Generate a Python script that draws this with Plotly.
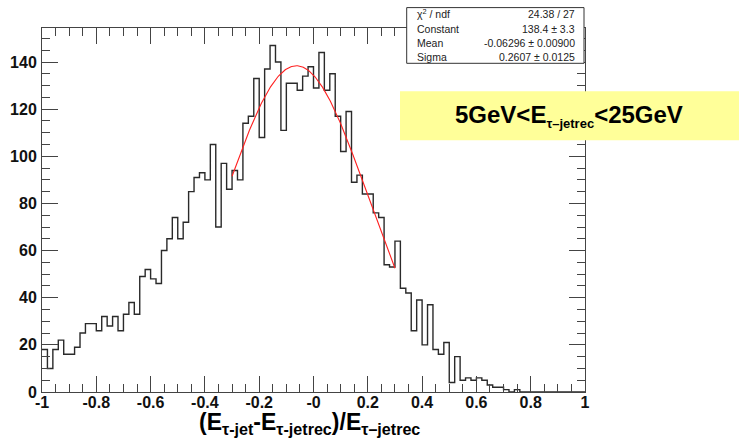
import plotly.graph_objects as go
import numpy as np

# Histogram definition: 100 bins from -1 to 1
bin_low = -1.0
bin_width = 0.02
counts = [
    18, 10, 18, 22, 16, 16, 19, 25, 29, 29,
    26, 32, 28, 32, 26, 33, 38, 33, 49, 52,
    48, 46, 60, 65, 74, 65, 72, 85, 91, 93,
    90, 105, 70, 97, 86, 94, 90, 114, 117, 133,
    108, 137, 147, 140, 111, 131, 131, 128, 134, 138,
    129, 144, 128, 135, 117, 102, 119, 89, 92, 84,
    84, 76, 74, 54, 53, 64, 44, 42, 26, 39,
    20, 37, 18, 16, 21, 4, 15, 5, 6, 5,
    6, 5, 3, 2, 2, 1, 0, 1, 0, 0,
    0, 0, 0, 0, 0, 0, 0, 0, 0, 0,
]

# Gaussian fit result
fit_constant = 138.4
fit_mean = -0.06296
fit_sigma = 0.2607
fit_range = (-0.3, 0.3)

stats_rows = [
    ("χ<sup>2</sup> / ndf", "24.38 / 27"),
    ("Constant", "138.4 ± 3.3"),
    ("Mean", "-0.06296 ± 0.00900"),
    ("Sigma", "0.2607 ± 0.0125"),
]

x_tickvals = [-1, -0.8, -0.6, -0.4, -0.2, 0, 0.2, 0.4, 0.6, 0.8, 1]
x_ticktext = ["-1", "-0.8", "-0.6", "-0.4", "-0.2", "-0", "0.2", "0.4", "0.6", "0.8", "1"]
y_tickvals = [0, 20, 40, 60, 80, 100, 120, 140]

FONT = "Liberation Sans, Arial, Helvetica, sans-serif"

# Plot frame in pixels
W, H = 739, 440
L, R, T, B = 42, 585, 27.7, 391.7


def px(x):
    return (x - L) / (R - L)


def py(y):
    return (B - y) / (B - T)


edges = bin_low + bin_width * np.arange(len(counts) + 1)
hist_x = list(edges)
hist_y = list(counts) + [counts[-1]]

xf = np.linspace(fit_range[0], fit_range[1], 200)
yf = fit_constant * np.exp(-0.5 * ((xf - fit_mean) / fit_sigma) ** 2)

fig = go.Figure()
fig.add_trace(go.Scatter(
    x=hist_x, y=hist_y, mode="lines", line_shape="hv",
    line=dict(color="#2a2a2a", width=1.4), hoverinfo="skip", showlegend=False,
))
fig.add_trace(go.Scatter(
    x=xf, y=yf, mode="lines",
    line=dict(color="#ff2020", width=1.1), hoverinfo="skip", showlegend=False,
))

axis_common = dict(
    showgrid=False, zeroline=False, showline=True, linecolor="#444444", linewidth=1,
    mirror="ticks", ticks="inside", tickcolor="#444444", tickwidth=1, automargin=False,
    tickfont=dict(family=FONT, size=16, color="#111111", weight="bold"),
)

fig.update_xaxes(
    range=[-1, 1], tickvals=x_tickvals, ticktext=x_ticktext, ticklen=16,
    ticklabelstandoff=-4,
    minor=dict(dtick=0.05, tick0=0, ticklen=8, ticks="inside", tickcolor="#444444", showgrid=False),
    **axis_common,
)
fig.update_yaxes(
    range=[0, (B - T) / ((B - 61.7) / 140)], tickvals=y_tickvals, ticklen=16,
    ticklabelstandoff=1,
    minor=dict(dtick=5, tick0=0, ticklen=8, ticks="inside", tickcolor="#444444", showgrid=False),
    **axis_common,
)

shapes = []
annotations = []

# Statistics box
shapes.append(dict(type="rect", xref="paper", yref="paper",
                   x0=px(406.7), x1=px(584), y0=py(63), y1=py(7.3),
                   line=dict(color="#333333", width=1), fillcolor="white", layer="above"))
row_y = [13.7, 28.3, 42.7, 56.7]
for (lab, val), yy in zip(stats_rows, row_y):
    annotations.append(dict(xref="paper", yref="paper", x=px(415), y=py(yy),
                            xanchor="left", yanchor="middle", text=lab, showarrow=False,
                            font=dict(family=FONT, size=10.5, color="#222222")))
    annotations.append(dict(xref="paper", yref="paper", x=px(577), y=py(yy),
                            xanchor="right", yanchor="middle", text=val, showarrow=False,
                            font=dict(family=FONT, size=10.5, color="#222222")))

# Energy range label
shapes.append(dict(type="rect", xref="paper", yref="paper",
                   x0=px(400), x1=px(739), y0=py(140), y1=py(91),
                   line=dict(width=0), fillcolor="#ffff99", layer="above"))
annotations.append(dict(
    xref="paper", yref="paper", x=px(569), y=py(116), xanchor="center", yanchor="middle",
    text="<b>5GeV&lt;E<sub><span style='font-size:13px'>τ–jetrec</span></sub>&lt;25GeV</b>",
    showarrow=False, font=dict(family=FONT, size=24, color="black"),
))

# Axis title
annotations.append(dict(
    xref="paper", yref="paper", x=px(309), y=py(423.5), xanchor="center", yanchor="middle",
    text="<b>(E<sub>τ-jet</sub>-E<sub>τ-jetrec</sub>)/E<sub>τ–jetrec</sub></b>",
    showarrow=False, font=dict(family=FONT, size=23, color="black"),
))

fig.update_layout(
    width=W, height=H,
    margin=dict(l=L, r=W - R, t=T, b=H - B, autoexpand=False),
    plot_bgcolor="white", paper_bgcolor="white",
    shapes=shapes, annotations=annotations, showlegend=False,
)

fig.write_html("out.html")
